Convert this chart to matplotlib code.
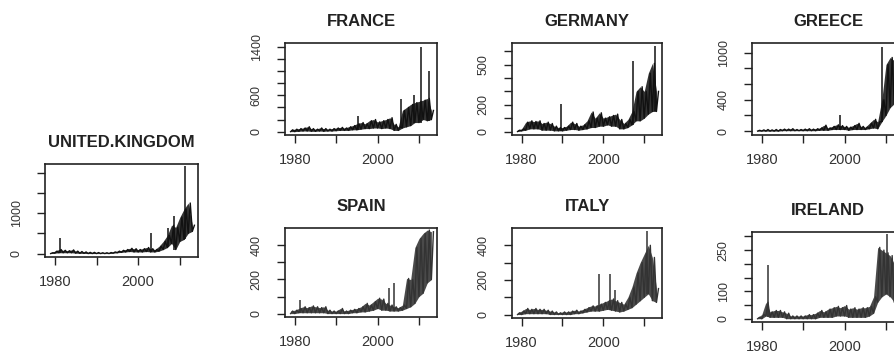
import numpy as np
import matplotlib.pyplot as plt

plt.rcParams['font.family'] = ['Liberation Sans', 'DejaVu Sans']

# yearly low / high of the monthly series, 1979..2013
years = np.arange(1979, 2014)

uk_lo = [0, 10, 20, 20, 20, 20, 10, 5, 5, 0, 0, 0, 0, 0, 0, 10, 20, 30, 40, 50,
         40, 40, 40, 50, 40, 40, 60, 100, 150, 250, 100, 300, 350, 500, 550]
uk_hi = [20, 60, 100, 80, 70, 90, 60, 50, 40, 30, 30, 25, 20, 20, 25, 40, 60, 80, 100, 130,
         120, 100, 120, 150, 120, 100, 180, 300, 450, 700, 650, 900, 1100, 1250, 700]
uk_spike_yr = [1981.2, 2003.0, 2007.2, 2008.6, 2011.3]
uk_spike_val = [380, 510, 640, 940, 2170]

fr_lo = [0, 0, 5, 10, 10, 5, 5, 10, 5, 10, 10, 15, 20, 20, 20, 30, 30, 40, 50, 50,
         60, 60, 50, 60, 50, 20, 20, 60, 80, 100, 150, 150, 200, 180, 200]
fr_hi = [30, 40, 50, 60, 80, 50, 40, 60, 50, 40, 50, 60, 70, 60, 80, 100, 130, 150, 130, 180,
         200, 160, 180, 200, 230, 120, 80, 350, 400, 450, 480, 500, 520, 550, 350]
fr_spike_yr = [1995.2, 2005.7, 2008.8, 2010.4, 2012.4]
fr_spike_val = [266, 543, 600, 1400, 1010]

de_lo = [0, 5, 10, 20, 20, 20, 10, 10, 10, 5, 5, 5, 10, 15, 15, 10, 15, 20, 30, 30,
         40, 40, 50, 40, 40, 20, 20, 30, 50, 80, 80, 100, 130, 150, 150]
de_hi = [10, 20, 70, 80, 75, 80, 60, 70, 60, 40, 30, 30, 40, 70, 60, 40, 50, 80, 146, 100,
         140, 100, 110, 120, 130, 90, 60, 90, 150, 300, 335, 300, 436, 510, 300]
de_spike_yr = [1989.6, 2007.2, 2012.6]
de_spike_val = [209, 524, 637]

gr_lo = [0, 0, 0, 0, 0, 0, 5, 5, 5, 5, 5, 5, 5, 5, 5, 10, 10, 10, 20, 20,
         20, 20, 10, 20, 20, 20, 20, 30, 40, 30, 120, 200, 300, 350, 300]
gr_hi = [10, 15, 20, 15, 20, 20, 25, 25, 30, 20, 20, 25, 30, 25, 30, 40, 75, 40, 60, 80,
         70, 60, 50, 70, 99, 60, 50, 100, 150, 120, 400, 850, 940, 900, 800]
gr_spike_yr = [1998.8, 2009.0]
gr_spike_val = [206, 1073]

es_lo = [0, 0, 5, 5, 5, 5, 5, 5, 5, 0, 0, 0, 0, 0, 0, 5, 5, 10, 10, 15,
         20, 30, 20, 20, 15, 15, 15, 20, 30, 40, 60, 100, 120, 180, 200]
es_hi = [15, 20, 30, 40, 35, 45, 40, 35, 40, 20, 15, 15, 30, 15, 20, 25, 30, 40, 60, 50,
         70, 90, 85, 60, 50, 40, 35, 50, 206, 200, 387, 440, 470, 490, 480]
es_spike_yr = [1981.2, 2002.7, 2003.9]
es_spike_val = [82, 149, 177]

it_lo = [0, 0, 5, 5, 5, 5, 5, 5, 0, 0, 0, 0, 0, 0, 5, 5, 10, 15, 20, 20,
         20, 25, 30, 25, 20, 15, 20, 30, 40, 60, 80, 100, 120, 80, 70]
it_hi = [10, 20, 35, 30, 35, 30, 30, 25, 20, 15, 10, 15, 15, 20, 25, 20, 30, 40, 50, 50,
         60, 70, 80, 90, 80, 70, 60, 100, 160, 240, 300, 350, 400, 330, 150]
it_spike_yr = [1998.9, 2001.6, 2002.8, 2010.8]
it_spike_val = [234, 234, 139, 482]

ie_lo = [0, 0, 10, 5, 5, 5, 5, 0, 0, 0, 0, 0, 0, 0, 0, 5, 5, 5, 5, 10,
         10, 10, 5, 5, 5, 5, 5, 10, 20, 60, 80, 90, 80, 60, 50]
ie_hi = [5, 15, 60, 25, 30, 30, 25, 20, 10, 10, 10, 10, 15, 15, 20, 30, 25, 35, 40, 45,
         40, 48, 35, 40, 35, 40, 40, 45, 80, 260, 250, 240, 230, 200, 180]
ie_spike_yr = [1981.5, 2010.3]
ie_spike_val = [194, 309]

W, H = 894, 353
fig = plt.figure(figsize=(W / 100, H / 100), dpi=100)


def panel(title, lo, hi, spike_yr, spike_val, box, ylim, yticks, ylabels, color, shade):
    left, top, right, bottom = box
    ax = fig.add_axes([left / W, 1 - bottom / H, (right - left) / W, (bottom - top) / H])
    lo = np.asarray(lo, float)
    hi = np.asarray(hi, float)
    ax.fill_between(years, lo, hi, color=shade, lw=0)
    # zigzag between the yearly low and high
    zt = np.ravel(np.column_stack([years, years + 0.5]))
    zv = np.ravel(np.column_stack([lo, hi]))
    ax.plot(zt, zv, color=color, lw=1.0)
    base = [lo[int(round(y)) - years[0]] for y in spike_yr]
    ax.vlines(spike_yr, base, spike_val, color=color, lw=1.1)

    ax.set_xlim(1977.64, 2014.36)
    ax.set_ylim(*ylim)
    ax.set_xticks([1980, 1990, 2000, 2010])
    ax.set_xticklabels(['1980', '', '2000', ''])
    ax.set_yticks(yticks)
    ax.set_yticklabels(ylabels, rotation=90, va='center')
    ax.tick_params(axis='both', length=6, width=1.0, color='#222222', labelcolor='#333333')
    ax.tick_params(axis='x', pad=7, labelsize=10.5)
    ax.tick_params(axis='y', pad=10, labelsize=9)
    for s in ax.spines.values():
        s.set_linewidth(1.2)
        s.set_color('#222222')
    ax.set_title(title, fontsize=12, fontweight='bold', color='#222222', pad=12)
    return ax


def labels(ticks, shown):
    return [str(t) if t in shown else '' for t in ticks]


dark, dark_fill = '#111111', '#333333'
grey, grey_fill = '#333333', '#4a4a4a'

t = list(range(0, 2001, 500))
panel('UNITED.KINGDOM', uk_lo, uk_hi, uk_spike_yr, uk_spike_val, (45, 164, 198, 257),
      (-85, 2215), t, labels(t, [0, 1000]), dark, dark_fill)

t = list(range(0, 1401, 200))
panel('FRANCE', fr_lo, fr_hi, fr_spike_yr, fr_spike_val, (285, 43, 437, 135),
      (-56, 1466), t, labels(t, [0, 600, 1400]), dark, dark_fill)

t = list(range(0, 601, 100))
panel('GERMANY', de_lo, de_hi, de_spike_yr, de_spike_val, (512, 43, 662, 135),
      (-26, 662), t, labels(t, [0, 200, 500]), dark, dark_fill)

t = list(range(0, 1001, 200))
panel('GREECE', gr_lo, gr_hi, gr_spike_yr, gr_spike_val, (752, 43, 904, 135),
      (-50, 1125), t, labels(t, [0, 400, 1000]), dark, dark_fill)

t = list(range(0, 401, 100))
panel('SPAIN', es_lo, es_hi, es_spike_yr, es_spike_val, (285, 228, 437, 317),
      (-20, 502), t, labels(t, [0, 200, 400]), grey, grey_fill)

panel('ITALY', it_lo, it_hi, it_spike_yr, it_spike_val, (512, 228, 662, 318),
      (-20, 500), t, labels(t, [0, 200, 400]), grey, grey_fill)

t = list(range(0, 301, 50))
panel('IRELAND', ie_lo, ie_hi, ie_spike_yr, ie_spike_val, (752, 232, 904, 322),
      (-12, 316), t, labels(t, [0, 100, 250]), grey, grey_fill)

fig.savefig('out.png', dpi=100)
